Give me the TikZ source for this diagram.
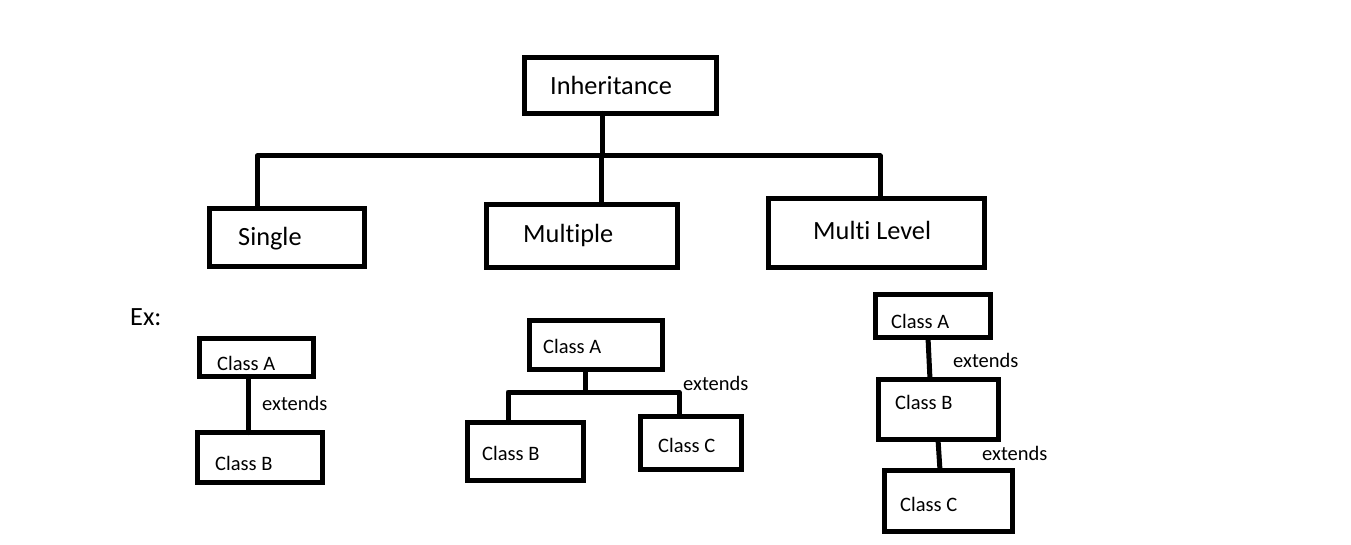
\documentclass[tikz,border=0pt]{standalone}
\usepackage{fontspec}
\setmainfont[Ligatures=NoCommon]{Carlito}
\begin{document}
\begin{tikzpicture}[x=1pt,y=-1pt,
  box/.style={draw=black, line width=4.8pt, inner sep=0pt, outer sep=0pt},
  bigtxt/.style={anchor=base west, inner sep=0pt, font=\fontsize{26.3}{30}\selectfont},
  smalltxt/.style={anchor=base west, inner sep=0pt, font=\fontsize{20.5}{24}\selectfont},
  conn/.style={draw=black, line width=5pt, line join=round, line cap=round}]
\fill[white] (0,0) rectangle (1351,545);
\useasboundingbox (0,0) rectangle (1351,545);

% top level boxes
\node[box, minimum width=192pt, minimum height=56pt] (inh) at (620.5,85.5) {};
\node[box, minimum width=155pt, minimum height=58pt] (single) at (287,237.5) {};
\node[box, minimum width=191pt, minimum height=63pt] (mult) at (582,236) {};
\node[box, minimum width=216pt, minimum height=69pt] (ml) at (876.5,233) {};

\node[bigtxt] (tinh) at (550,95) {Inheritance};
\node[bigtxt] (tsingle) at (238,246) {Single};
\node[bigtxt] (tmult) at (523,243) {Multiple};
\node[bigtxt] (tml) at (813,240) {Multi Level};

% top connectors
\coordinate (j0) at (602.5,156);
\coordinate (jl) at (257,156);
\coordinate (jm) at (601,156);
\coordinate (jr) at (880,156);
\draw[conn] (j0 |- inh.south) -- (j0);
\draw[conn] (jl |- single.north) -- (jl) -- (jr) -- (jr |- ml.north);
\draw[conn] (jm) -- (jm |- mult.north);

\node[bigtxt] (ex) at (130,325) {Ex:};

% single example
\node[box, minimum width=114pt, minimum height=38pt] (sa) at (256.5,357.5) {};
\node[box, minimum width=125pt, minimum height=50pt] (sb) at (260,457.5) {};
\node[smalltxt] (tsa) at (217,370) {Class A};
\node[smalltxt] (tsb) at (215,470) {Class B};
\coordinate (s1) at (248,380);
\draw[conn] (s1 |- sa.south) -- (s1 |- sb.north);
\node[smalltxt] (ext1) at (262,410) {extends};

% multiple example
\node[box, minimum width=133pt, minimum height=49pt] (ma) at (596,345) {};
\node[box, minimum width=116pt, minimum height=58pt] (mb) at (525.5,451.5) {};
\node[box, minimum width=101pt, minimum height=53pt] (mc) at (691,443) {};
\node[smalltxt] (tma) at (543,353) {Class A};
\node[smalltxt] (tmb) at (482,460) {Class B};
\node[smalltxt] (tmc) at (658,452) {Class C};
\coordinate (m0) at (585,392);
\coordinate (ml1) at (508,392);
\coordinate (mr1) at (679,392);
\draw[conn] (m0 |- ma.south) -- (m0);
\draw[conn] (ml1 |- mb.north) -- (ml1) -- (mr1) -- (mr1 |- mc.north);
\node[smalltxt] (ext2) at (683,390) {extends};

% multi level example
\node[box, minimum width=115pt, minimum height=43pt] (la) at (933,316) {};
\node[box, minimum width=120pt, minimum height=60pt] (lb) at (938.5,409.5) {};
\node[box, minimum width=128pt, minimum height=61pt] (lc) at (948.5,501) {};
\node[smalltxt] (tla) at (891,328) {Class A};
\node[smalltxt] (tlb) at (895,409) {Class B};
\node[smalltxt] (tlc) at (900,511) {Class C};
\coordinate (l1a) at (928,340);
\coordinate (l1b) at (930,380);
\draw[conn] (l1a |- la.south) -- (l1b |- lb.north);
\coordinate (l2a) at (938,440);
\coordinate (l2b) at (940,470);
\draw[conn] (l2a |- lb.south) -- (l2b |- lc.north);
\node[smalltxt] (ext3) at (953,367) {extends};
\node[smalltxt] (ext4) at (982,460) {extends};
\end{tikzpicture}
\end{document}
